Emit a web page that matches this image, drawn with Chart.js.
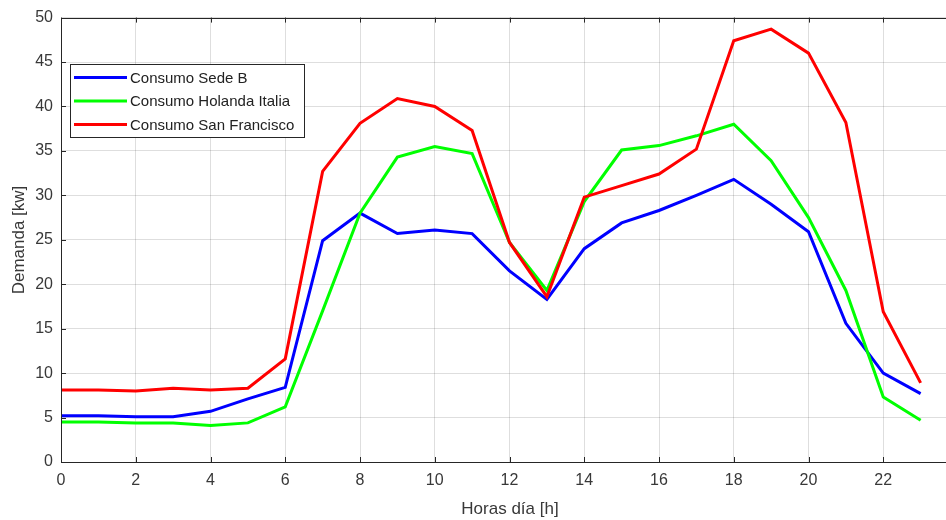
<!DOCTYPE html>
<html>
<head>
<meta charset="utf-8">
<script src="https://cdn.jsdelivr.net/npm/chart.js@4.4.1/dist/chart.umd.min.js"></script>
<style>
html,body{margin:0;padding:0;background:#fff;overflow:hidden;width:946px;height:520px;}
canvas{display:block;}
</style>
</head>
<body>
<canvas id="c" width="967" height="520"></canvas>
<script>
const hours = [0,1,2,3,4,5,6,7,8,9,10,11,12,13,14,15,16,17,18,19,20,21,22,23];
const sedeB = [5.2,5.2,5.1,5.1,5.7,7.1,8.4,24.9,28.0,25.7,26.1,25.7,21.5,18.3,24.0,26.9,28.3,30.0,31.8,29.0,25.9,15.6,10.0,7.7];
const holandaItalia = [4.5,4.5,4.4,4.4,4.1,4.4,6.2,17.0,28.0,34.3,35.5,34.7,24.7,19.3,29.3,35.1,35.6,36.7,38.0,33.9,27.5,19.3,7.3,4.7];
const sanFrancisco = [8.1,8.1,8.0,8.3,8.1,8.3,11.6,32.7,38.1,40.9,40.0,37.3,24.7,18.6,29.8,31.1,32.4,35.2,47.4,48.7,46.0,38.2,16.9,8.9];
const seriesNames = ['Consumo Sede B','Consumo Holanda Italia','Consumo San Francisco'];
const xTitle = 'Horas día [h]';
const yTitle = 'Demanda [kw]';

const axisColor = '#262626';
const textColor = '#383838';
const font = '"Liberation Sans", Arial, sans-serif';

function pts(arr){ return hours.map((h,i)=>({x:h,y:arr[i]})); }

const matlabAxes = {
  id:'matlabAxes',
  afterDraw(chart){
    const ctx = chart.ctx, a = chart.chartArea;
    const xs = chart.scales.x, ys = chart.scales.y;
    ctx.save();
    ctx.strokeStyle = axisColor;
    ctx.lineWidth = 1;
    ctx.strokeRect(Math.round(a.left)+0.5, Math.round(a.top)+0.5, Math.round(a.right-a.left), Math.round(a.bottom-a.top));
    const tl = 5;
    ctx.beginPath();
    xs.ticks.forEach(t=>{
      const px = Math.round(xs.getPixelForValue(t.value))+0.5;
      ctx.moveTo(px,a.bottom); ctx.lineTo(px,a.bottom-tl);
      ctx.moveTo(px,a.top); ctx.lineTo(px,a.top+tl);
    });
    ys.ticks.forEach(t=>{
      const py = Math.round(ys.getPixelForValue(t.value))+0.5;
      ctx.moveTo(a.left,py); ctx.lineTo(a.left+tl,py);
      ctx.moveTo(a.right,py); ctx.lineTo(a.right-tl,py);
    });
    ctx.stroke();
    ctx.fillStyle = textColor;
    ctx.font = '17px ' + font;
    ctx.textAlign = 'center';
    ctx.textBaseline = 'middle';
    ctx.fillText(xTitle, 510, 509);
    ctx.translate(19, 240);
    ctx.rotate(-Math.PI/2);
    ctx.fillText(yTitle, 0, 0);
    ctx.restore();
    ctx.save();
    const lx = 70, ly = 64, lw = 234, lh = 73;
    ctx.fillStyle = '#fff';
    ctx.fillRect(lx, ly, lw, lh);
    ctx.strokeStyle = axisColor;
    ctx.lineWidth = 1;
    ctx.strokeRect(lx+0.5, ly+0.5, lw, lh);
    const rows = [77.5, 101, 124.5];
    chart.data.datasets.forEach((ds,i)=>{
      ctx.strokeStyle = ds.borderColor;
      ctx.lineWidth = 3;
      ctx.beginPath();
      ctx.moveTo(74, rows[i]); ctx.lineTo(127, rows[i]);
      ctx.stroke();
      ctx.fillStyle = '#222';
      ctx.font = '15px ' + font;
      ctx.textAlign = 'left';
      ctx.textBaseline = 'middle';
      ctx.fillText(ds.label, 130, rows[i]+1);
    });
    ctx.restore();
  }
};

new Chart(document.getElementById('c'), {
  type:'line',
  data:{
    datasets:[
      {label:seriesNames[0], data:pts(sedeB), borderColor:'#0000ff', backgroundColor:'#0000ff', borderWidth:3, pointRadius:0, tension:0, order:3},
      {label:seriesNames[1], data:pts(holandaItalia), borderColor:'#00ff00', backgroundColor:'#00ff00', borderWidth:3, pointRadius:0, tension:0, order:2},
      {label:seriesNames[2], data:pts(sanFrancisco), borderColor:'#ff0000', backgroundColor:'#ff0000', borderWidth:3, pointRadius:0, tension:0, order:1}
    ]
  },
  options:{
    responsive:false,
    animation:false,
    layout:{padding:{top:17,right:2,left:0,bottom:0}},
    plugins:{legend:{display:false}, tooltip:{enabled:false}},
    scales:{
      x:{
        type:'linear', min:0, max:24,
        afterFit(s){ s.height = 58; },
        ticks:{stepSize:2, color:textColor, font:{family:font, size:16}, padding:9, maxRotation:0,
          callback:(v)=> v===24 ? '' : String(v)},
        grid:{color:'rgba(0,0,0,0.13)', drawTicks:false, lineWidth:1},
        border:{display:false}
      },
      y:{
        min:0, max:50,
        afterFit(s){ s.width = 61; },
        ticks:{stepSize:5, color:textColor, font:{family:font, size:16}, padding:8},
        grid:{color:'rgba(0,0,0,0.13)', drawTicks:false, lineWidth:1},
        border:{display:false}
      }
    }
  },
  plugins:[matlabAxes]
});
</script>
</body>
</html>
